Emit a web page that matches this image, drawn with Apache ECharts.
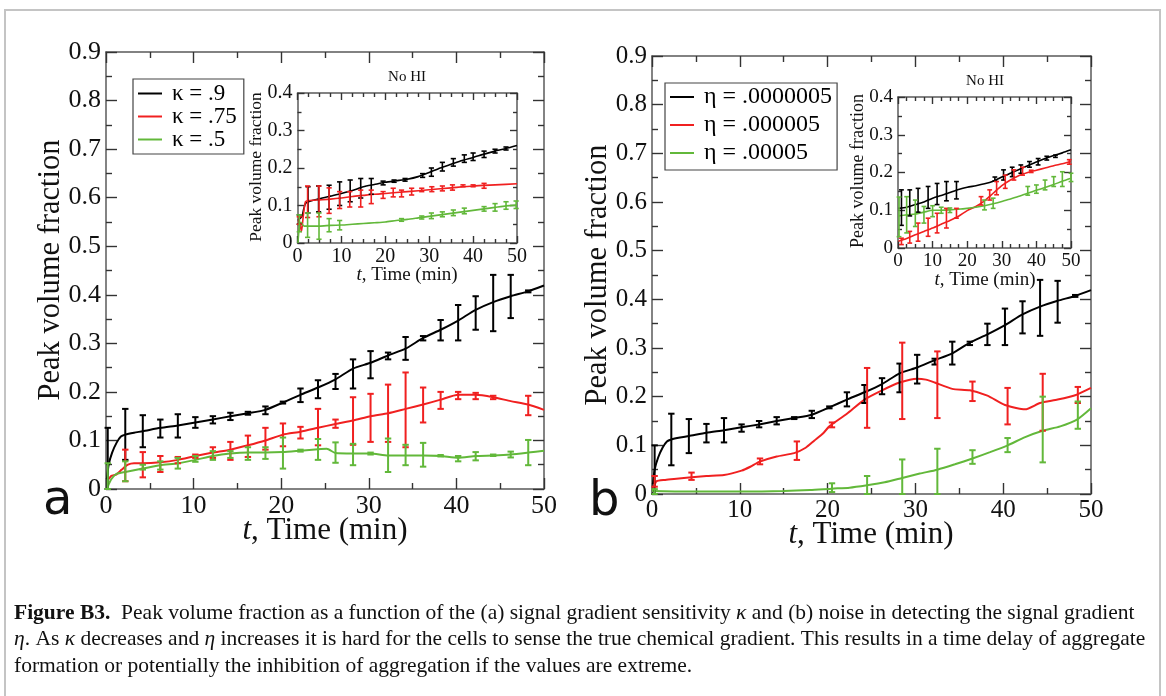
<!DOCTYPE html>
<html><head><meta charset="utf-8">
<script src="https://cdn.jsdelivr.net/npm/echarts@6/dist/echarts.min.js"></script>
<style>html,body{margin:0;padding:0;background:#fff;}#c{width:1166px;height:696px;}</style>
</head><body><div id="c"></div>
<script>
// ---------- DATA ----------
const xTicksMain = [0, 10, 20, 30, 40, 50];
const legendA = ['κ = .9', 'κ = .75', 'κ = .5'];
const legendB = ['η = .0000005', 'η = .000005', 'η = .00005'];

// Panel a main: [t, value]
const aBlackLine = [[0.1,0.02],[0.3,0.05],[0.7,0.075],[1.2,0.095],[1.7,0.108],[2.2,0.112],[3.2,0.116],[4.2,0.119],[6.2,0.126],[8.2,0.131],[10.2,0.137],[12.2,0.143],[14.2,0.150],[16.2,0.156],[18.2,0.163],[20.2,0.178],[22.2,0.194],[24.2,0.209],[26.2,0.226],[28.2,0.248],[30.2,0.260],[32.2,0.275],[34.2,0.289],[36.2,0.311],[38.2,0.328],[40.2,0.347],[42.2,0.369],[44.2,0.385],[46.2,0.397],[48.2,0.407],[50,0.419]];
const aBlackErr = [[0.2,0.0,0.126],[2.2,0.06,0.165],[4.2,0.086,0.152],[6.2,0.106,0.143],[8.2,0.106,0.154],[10.2,0.126,0.148],[12.2,0.135,0.150],[14.2,0.142,0.157],[16.2,0.153,0.159],[18.2,0.154,0.170],[20.2,0.176,0.180],[22.2,0.179,0.207],[24.2,0.187,0.224],[26.2,0.206,0.237],[28.2,0.207,0.267],[30.2,0.228,0.284],[32.2,0.267,0.281],[34.2,0.266,0.313],[36.2,0.306,0.315],[38.2,0.306,0.348],[40.2,0.306,0.379],[42.2,0.328,0.397],[44.2,0.325,0.441],[46.2,0.352,0.441],[48.2,0.405,0.409]];
const aRedLine = [[0.3,0.02],[0.6,0.027],[1.2,0.03],[1.8,0.04],[2.5,0.05],[3.2,0.053],[4.2,0.053],[6.2,0.055],[8.2,0.06],[10.2,0.068],[12.2,0.075],[14.2,0.081],[16.2,0.09],[18.2,0.1],[20.2,0.112],[22.2,0.118],[24.2,0.126],[26.2,0.134],[28.2,0.141],[30.2,0.15],[32.2,0.156],[34.2,0.165],[36.2,0.174],[38.2,0.184],[40.2,0.194],[42.2,0.194],[44.2,0.189],[46.2,0.181],[48.2,0.174],[50,0.163]];
const aRedErr = [[2.2,0.016,0.081],[4.2,0.024,0.076],[6.2,0.035,0.068],[8.2,0.053,0.066],[10.2,0.064,0.071],[12.2,0.064,0.086],[14.2,0.06,0.097],[16.2,0.066,0.11],[18.2,0.081,0.126],[20.2,0.088,0.135],[22.2,0.104,0.128],[24.2,0.09,0.165],[26.2,0.126,0.143],[28.2,0.091,0.189],[30.2,0.097,0.196],[32.2,0.097,0.215],[34.2,0.086,0.24],[36.2,0.137,0.209],[38.2,0.165,0.2],[40.2,0.185,0.2],[42.2,0.185,0.198],[44.2,0.185,0.192],[48.2,0.152,0.192]];
const aGreenLine = [[0.2,0.005],[0.6,0.02],[1.2,0.031],[2.2,0.035],[4.2,0.042],[6.2,0.049],[8.2,0.053],[10.2,0.06],[12.2,0.068],[14.2,0.073],[16.2,0.075],[18.2,0.075],[20.2,0.076],[22.2,0.079],[24.2,0.082],[25.2,0.083],[26.2,0.074],[28.2,0.073],[30.2,0.073],[32.2,0.069],[34.2,0.069],[36.2,0.069],[38.2,0.068],[40.2,0.064],[42.2,0.068],[44.2,0.069],[46.2,0.071],[48.2,0.075],[50,0.079]];
const aGreenErr = [[0.2,0.0,0.053],[2.2,0.016,0.057],[4.2,0.04,0.05],[6.2,0.04,0.057],[8.2,0.042,0.064],[10.2,0.056,0.068],[12.2,0.06,0.078],[14.2,0.064,0.078],[16.2,0.06,0.086],[18.2,0.062,0.086],[20.2,0.042,0.106],[22.2,0.077,0.081],[24.2,0.06,0.103],[26.2,0.054,0.096],[28.2,0.049,0.093],[30.2,0.071,0.075],[32.2,0.035,0.104],[34.2,0.049,0.091],[36.2,0.046,0.095],[38.2,0.067,0.07],[40.2,0.057,0.068],[42.2,0.059,0.076],[44.2,0.068,0.071],[46.2,0.065,0.077],[48.2,0.049,0.101]];

// Panel a inset (No HI)
const aiBlackLine = [[0.1,0.06],[0.5,0.065],[1.0,0.07],[1.4,0.09],[1.8,0.105],[2.5,0.11],[5,0.118],[7.5,0.125],[10,0.132],[12.5,0.14],[15,0.15],[17.5,0.156],[20,0.162],[22.5,0.166],[25,0.17],[27.5,0.177],[30,0.188],[32.5,0.2],[35,0.21],[37.5,0.22],[40,0.228],[42.5,0.237],[45,0.245],[47.5,0.252],[50,0.26]];
const aiBlackErr = [[0.4,0.05,0.075],[2.4,0.08,0.15],[4.8,0.083,0.152],[7.2,0.09,0.154],[9.6,0.1,0.163],[12,0.11,0.168],[14.4,0.12,0.172],[16.8,0.13,0.172],[19.5,0.155,0.165],[22,0.162,0.168],[24.5,0.165,0.172],[28.5,0.175,0.185],[30.5,0.178,0.2],[33,0.192,0.215],[35.5,0.205,0.225],[38,0.215,0.235],[40,0.22,0.24],[42.5,0.228,0.245],[45,0.24,0.25],[47.5,0.248,0.256]];
const aiRedLine = [[0.1,0.06],[0.5,0.055],[0.9,0.03],[1.3,0.07],[1.8,0.11],[2.5,0.113],[5,0.115],[7.5,0.117],[10,0.12],[12.5,0.124],[15,0.127],[17.5,0.13],[20,0.132],[25,0.137],[30,0.142],[35,0.147],[40,0.152],[45,0.155],[50,0.158]];
const aiRedErr = [[0.4,0.05,0.07],[2.3,0.068,0.152],[4.9,0.07,0.152],[7.2,0.079,0.147],[9.6,0.092,0.137],[11.9,0.096,0.137],[14.4,0.096,0.141],[16.8,0.105,0.141],[19.5,0.119,0.137],[21.8,0.123,0.146],[23.7,0.123,0.141],[26,0.128,0.146],[28.3,0.137,0.146],[30.6,0.137,0.15],[33,0.139,0.152],[35.3,0.141,0.155],[37.7,0.15,0.155],[40,0.15,0.155],[42.5,0.146,0.159]];
const aiGreenLine = [[0.1,0.0],[0.4,0.04],[0.8,0.055],[1.5,0.045],[2.5,0.045],[5,0.045],[7.5,0.047],[10,0.048],[12.5,0.05],[15,0.052],[17.5,0.054],[20,0.056],[22.5,0.06],[25,0.063],[27.5,0.067],[30,0.071],[32.5,0.075],[35,0.079],[37.5,0.083],[40,0.087],[42.5,0.091],[45,0.095],[47.5,0.099],[50,0.101]];
const aiGreenErr = [[0.4,0.03,0.075],[2.3,0.015,0.08],[4.9,0.01,0.08],[7.2,0.03,0.065],[9.6,0.035,0.06],[23.7,0.058,0.065],[28.3,0.064,0.072],[30.5,0.065,0.08],[33,0.07,0.083],[35.5,0.073,0.088],[38,0.078,0.093],[42.5,0.085,0.097],[45,0.085,0.105],[47.5,0.09,0.11],[49.8,0.092,0.112]];

// Panel b main
const bBlackLine = aBlackLine;
const bBlackErr = [[0.3,0.0,0.1],[2.2,0.059,0.165],[4.2,0.084,0.154],[6.2,0.106,0.144],[8.2,0.106,0.156],[10.2,0.128,0.143],[12.2,0.137,0.150],[14.2,0.143,0.158],[16.2,0.154,0.158],[18.2,0.156,0.171],[20.2,0.176,0.180],[22.2,0.180,0.209],[24.2,0.187,0.224],[26.2,0.205,0.238],[28.2,0.209,0.268],[30.2,0.227,0.286],[32.2,0.266,0.278],[34.2,0.266,0.313],[36.2,0.306,0.313],[38.2,0.306,0.35],[40.2,0.306,0.381],[42.2,0.33,0.396],[44.2,0.325,0.44],[46.2,0.352,0.438],[48.2,0.405,0.409]];
const bRedLine = [[0.2,0.012],[0.5,0.026],[1.5,0.029],[2.5,0.031],[4.2,0.034],[6.2,0.037],[8.2,0.039],[10.2,0.048],[11.2,0.056],[12.2,0.066],[14.2,0.077],[16.2,0.084],[17.5,0.095],[18.5,0.11],[19.5,0.125],[20.2,0.139],[22.2,0.165],[24.2,0.194],[26.2,0.213],[28.2,0.229],[30.2,0.237],[31.2,0.235],[32.2,0.229],[34.2,0.216],[36.2,0.213],[38.2,0.202],[40.2,0.183],[42.5,0.174],[44.2,0.187],[46.2,0.194],[48.2,0.203],[50,0.218]];
const bRedErr = [[0.3,0.015,0.037],[4.5,0.029,0.044],[12.3,0.061,0.073],[16.5,0.07,0.108],[20.5,0.137,0.147],[24.5,0.136,0.259],[28.5,0.154,0.311],[32.5,0.156,0.293],[36.5,0.191,0.231],[40.5,0.143,0.218],[44.5,0.13,0.247],[48.5,0.187,0.22]];
const bGreenLine = [[0,0.006],[5,0.005],[10,0.005],[15,0.006],[18,0.008],[20.5,0.011],[22.5,0.013],[24.5,0.018],[26.5,0.024],[28.5,0.033],[30.5,0.042],[32.5,0.05],[34.5,0.061],[36.5,0.073],[38.5,0.086],[40.5,0.1],[42.5,0.117],[44.5,0.13],[46.5,0.139],[48.5,0.154],[50,0.176]];
const bGreenErr = [[0.3,0.0,0.01],[20.5,0.004,0.022],[24.5,0.0,0.037],[28.5,0.0,0.071],[32.5,0.0,0.093],[36.5,0.062,0.09],[40.5,0.086,0.115],[44.5,0.065,0.2],[48.5,0.134,0.19]];

// Panel b inset (No HI)
const biBlackLine = [[0.1,0.105],[2.5,0.108],[5,0.115],[7.5,0.122],[10,0.132],[12.5,0.139],[15,0.147],[17.5,0.155],[20,0.161],[22.5,0.165],[25,0.17],[27.5,0.177],[30,0.188],[32.5,0.198],[35,0.208],[37.5,0.218],[40,0.228],[42.5,0.237],[45,0.245],[47.5,0.252],[50,0.26]];
const biBlackErr = [[1,0.06,0.154],[3.4,0.085,0.154],[5.8,0.095,0.158],[8.7,0.105,0.163],[11.3,0.115,0.171],[14,0.125,0.176],[16.9,0.13,0.176],[28,0.178,0.188],[30.5,0.18,0.207],[33,0.189,0.214],[35.5,0.198,0.22],[38,0.214,0.229],[40.5,0.22,0.237],[43,0.233,0.243],[45.5,0.24,0.246]];
const biRedLine = [[0.1,0.018],[2.5,0.025],[5,0.035],[7.5,0.044],[10,0.053],[12.5,0.063],[15,0.073],[17.5,0.084],[20,0.099],[22.5,0.11],[25,0.125],[27.5,0.145],[30,0.165],[32.5,0.18],[35,0.192],[37.5,0.2],[40,0.206],[42.5,0.212],[45,0.218],[47.5,0.223],[50,0.229]];
const biRedErr = [[1,0.009,0.026],[3.4,0.013,0.044],[5.8,0.018,0.066],[8.7,0.031,0.079],[11.3,0.04,0.092],[14,0.053,0.105],[16.9,0.079,0.105],[24,0.114,0.136],[26.5,0.127,0.154],[28.5,0.141,0.176],[31,0.158,0.193],[33.5,0.18,0.207],[36,0.193,0.214],[38.5,0.2,0.206],[49.5,0.222,0.234]];
const biGreenLine = [[0.1,0.085],[2.5,0.088],[5,0.09],[7.5,0.095],[10,0.1],[12.5,0.1],[15,0.101],[17.5,0.103],[20,0.105],[22.5,0.108],[25,0.112],[27.5,0.117],[30,0.123],[32.5,0.13],[35,0.137],[37.5,0.145],[40,0.153],[42.5,0.16],[45,0.168],[47.5,0.177],[50,0.185]];
const biGreenErr = [[0.3,0.03,0.135],[2.5,0.04,0.136],[5,0.057,0.127],[7.5,0.066,0.11],[10,0.083,0.112],[12.5,0.092,0.108],[15,0.094,0.106],[25,0.101,0.127],[27.5,0.105,0.132],[37.5,0.14,0.163],[40,0.145,0.167],[42.5,0.154,0.18],[45,0.163,0.189],[47.5,0.163,0.202],[50,0.176,0.198]];

// ---------- STYLE ----------
const BLACK = '#000000', RED = '#f02020', GREEN = '#62b83a';
const SERIF = 'Liberation Serif';
const FRAME = '#5a5a5a', TICK = '#333333';

const grids = [
  {left:106, top:52, width:438, height:437},
  {left:297.5, top:93, width:219.5, height:150},
  {left:652, top:56, width:439, height:438},
  {left:898, top:97, width:173, height:151}
];
const gridCfg = [
  {ymax:0.9, fs:26, major:11, minor:6, xsplit:2, lw:2, cap:3.2},
  {ymax:0.4, fs:20, major:7, minor:4, xsplit:4, lw:1.6, cap:2.6},
  {ymax:0.9, fs:25, major:11, minor:6, xsplit:2, lw:2, cap:3.2},
  {ymax:0.4, fs:19, major:7, minor:4, xsplit:4, lw:1.6, cap:2.4}
];

const xAxes = [], yAxes = [];
gridCfg.forEach((c, g) => {
  ['bottom','top'].forEach((pos, k) => {
    xAxes.push({type:'value', gridIndex:g, position:pos, min:0, max:50, interval:10,
      axisLine:{show:true, onZero:false, lineStyle:{color:FRAME, width:1.5}},
      axisTick:{show:true, inside:true, length:c.major, lineStyle:{color:TICK, width:1.4}},
      minorTick:{show:true, splitNumber:c.xsplit, length:c.minor, lineStyle:{color:TICK, width:1.4}},
      axisLabel:{show:k===0, fontFamily:SERIF, fontSize:c.fs, color:'#111', margin:4},
      splitLine:{show:false}, minorSplitLine:{show:false}});
  });
  ['left','right'].forEach((pos, k) => {
    yAxes.push({type:'value', gridIndex:g, position:pos, min:0, max:c.ymax, interval:0.1,
      axisLine:{show:true, onZero:false, lineStyle:{color:FRAME, width:1.5}},
      axisTick:{show:true, inside:true, length:c.major, lineStyle:{color:TICK, width:1.4}},
      minorTick:{show:true, splitNumber:2, length:c.minor, lineStyle:{color:TICK, width:1.4}},
      axisLabel:{show:k===0, fontFamily:SERIF, fontSize:c.fs, color:'#111', margin:5},
      splitLine:{show:false}, minorSplitLine:{show:false}});
  });
});

function lineS(name, data, g, color) {
  return {type:'line', name:name, data:data, xAxisIndex:2*g, yAxisIndex:2*g, symbol:'none',
    smooth:0.2, lineStyle:{color:color, width:gridCfg[g].lw}, itemStyle:{color:color},
    animation:false, z:3, silent:true};
}
function errS(data, g, color) {
  const cap = gridCfg[g].cap, w = gridCfg[g].lw;
  return {type:'custom', data:data, xAxisIndex:2*g, yAxisIndex:2*g, encode:{x:0, y:[1,2]},
    animation:false, silent:true, z:4,
    renderItem: function(params, api) {
      const t = api.value(0), p1 = api.coord([t, api.value(1)]), p2 = api.coord([t, api.value(2)]);
      const st = {stroke:color, lineWidth:w};
      return {type:'group', children:[
        {type:'line', shape:{x1:p1[0], y1:p1[1], x2:p2[0], y2:p2[1]}, style:st},
        {type:'line', shape:{x1:p1[0]-cap, y1:p1[1], x2:p1[0]+cap, y2:p1[1]}, style:st},
        {type:'line', shape:{x1:p2[0]-cap, y1:p2[1], x2:p2[0]+cap, y2:p2[1]}, style:st}
      ]};
    }};
}

const series = [
  lineS(legendA[0], aBlackLine, 0, BLACK), errS(aBlackErr, 0, BLACK),
  lineS(legendA[1], aRedLine, 0, RED), errS(aRedErr, 0, RED),
  lineS(legendA[2], aGreenLine, 0, GREEN), errS(aGreenErr, 0, GREEN),
  lineS('ai0', aiBlackLine, 1, BLACK), errS(aiBlackErr, 1, BLACK),
  lineS('ai1', aiRedLine, 1, RED), errS(aiRedErr, 1, RED),
  lineS('ai2', aiGreenLine, 1, GREEN), errS(aiGreenErr, 1, GREEN),
  lineS(legendB[0], bBlackLine, 2, BLACK), errS(bBlackErr, 2, BLACK),
  lineS(legendB[1], bRedLine, 2, RED), errS(bRedErr, 2, RED),
  lineS(legendB[2], bGreenLine, 2, GREEN), errS(bGreenErr, 2, GREEN),
  lineS('bi0', biBlackLine, 3, BLACK), errS(biBlackErr, 3, BLACK),
  lineS('bi1', biRedLine, 3, RED), errS(biRedErr, 3, RED),
  lineS('bi2', biGreenLine, 3, GREEN), errS(biGreenErr, 3, GREEN)
];

function txt(text, x, y, size, opts) {
  opts = opts || {};
  return {type:'text', x:x, y:y, rotation:opts.rot || 0, z:10,
    style:{text:text, fontFamily:opts.font || SERIF, fontSize:size, fontWeight:opts.weight || 'normal',
      fill:'#111', align:opts.align || 'center', verticalAlign:'middle',
      rich:{i:{fontStyle:'italic', fontFamily:SERIF, fontSize:size, fill:'#111'},
            b:{fontWeight:'bold', fontFamily:SERIF, fontSize:size, fill:'#111'}}}};
}
const capSize = 21.5;
const graphics = [
  {type:'rect', shape:{x:5, y:10, width:1155, height:720}, style:{fill:'none', stroke:'#c4c4c4', lineWidth:2}, z:0},
  txt('Peak volume fraction', 51, 270, 30.5, {rot:Math.PI/2}),
  txt('{i|t}, Time (min)', 325, 531, 31),
  txt('Peak volume fraction', 598, 275, 30.5, {rot:Math.PI/2}),
  txt('{i|t}, Time (min)', 871, 535, 31),
  txt('Peak volume fraction', 256, 167, 17.5, {rot:Math.PI/2}),
  txt('{i|t}, Time (min)', 407, 275, 19),
  txt('No HI', 407, 77, 15),
  txt('Peak volume fraction', 858, 171, 18, {rot:Math.PI/2}),
  txt('{i|t}, Time (min)', 985, 280, 19),
  txt('No HI', 985, 81, 15),
  txt('a', 43, 502, 48, {font:'DejaVu Sans', align:'left'}),
  txt('b', 589, 503, 48, {font:'DejaVu Sans', align:'left'}),
  txt('{b|Figure B3.}  Peak volume fraction as a function of the (a) signal gradient sensitivity {i|κ} and (b) noise in detecting the signal gradient', 14, 613, capSize, {align:'left'}),
  txt('{i|η}. As {i|κ} decreases and {i|η} increases it is hard for the cells to sense the true chemical gradient. This results in a time delay of aggregate', 14, 639, capSize, {align:'left'}),
  txt('formation or potentially the inhibition of aggregation if the values are extreme.', 14, 666, capSize, {align:'left'})
];

const legendBase = {orient:'vertical', selectedMode:false, icon:'rect', itemWidth:24, itemHeight:2,
  borderColor:'#444', borderWidth:1.2, borderRadius:0, backgroundColor:'#fff', z:8};
const option = {
  backgroundColor:'#ffffff',
  animation:false,
  grid: grids.map((g, i) => Object.assign({containLabel:false, z: i % 2 ? 2 : 0}, g)),
  xAxis: xAxes, yAxis: yAxes,
  legend: [
    Object.assign({}, legendBase, {data:legendA, left:133, top:79, padding:[3,7,3,5], itemGap:0,
      textStyle:{fontFamily:SERIF, fontSize:23, color:'#000', padding:[0,0,0,5]}}),
    Object.assign({}, legendBase, {data:legendB, left:665, top:83, padding:[2,5,5,5], itemGap:4,
      textStyle:{fontFamily:SERIF, fontSize:24, color:'#000', padding:[0,0,0,5]}})
  ],
  series: series,
  graphic: graphics
};
const chart = echarts.init(document.getElementById('c'), null, {renderer:'canvas'});
chart.setOption(option);
</script>
</body></html>
